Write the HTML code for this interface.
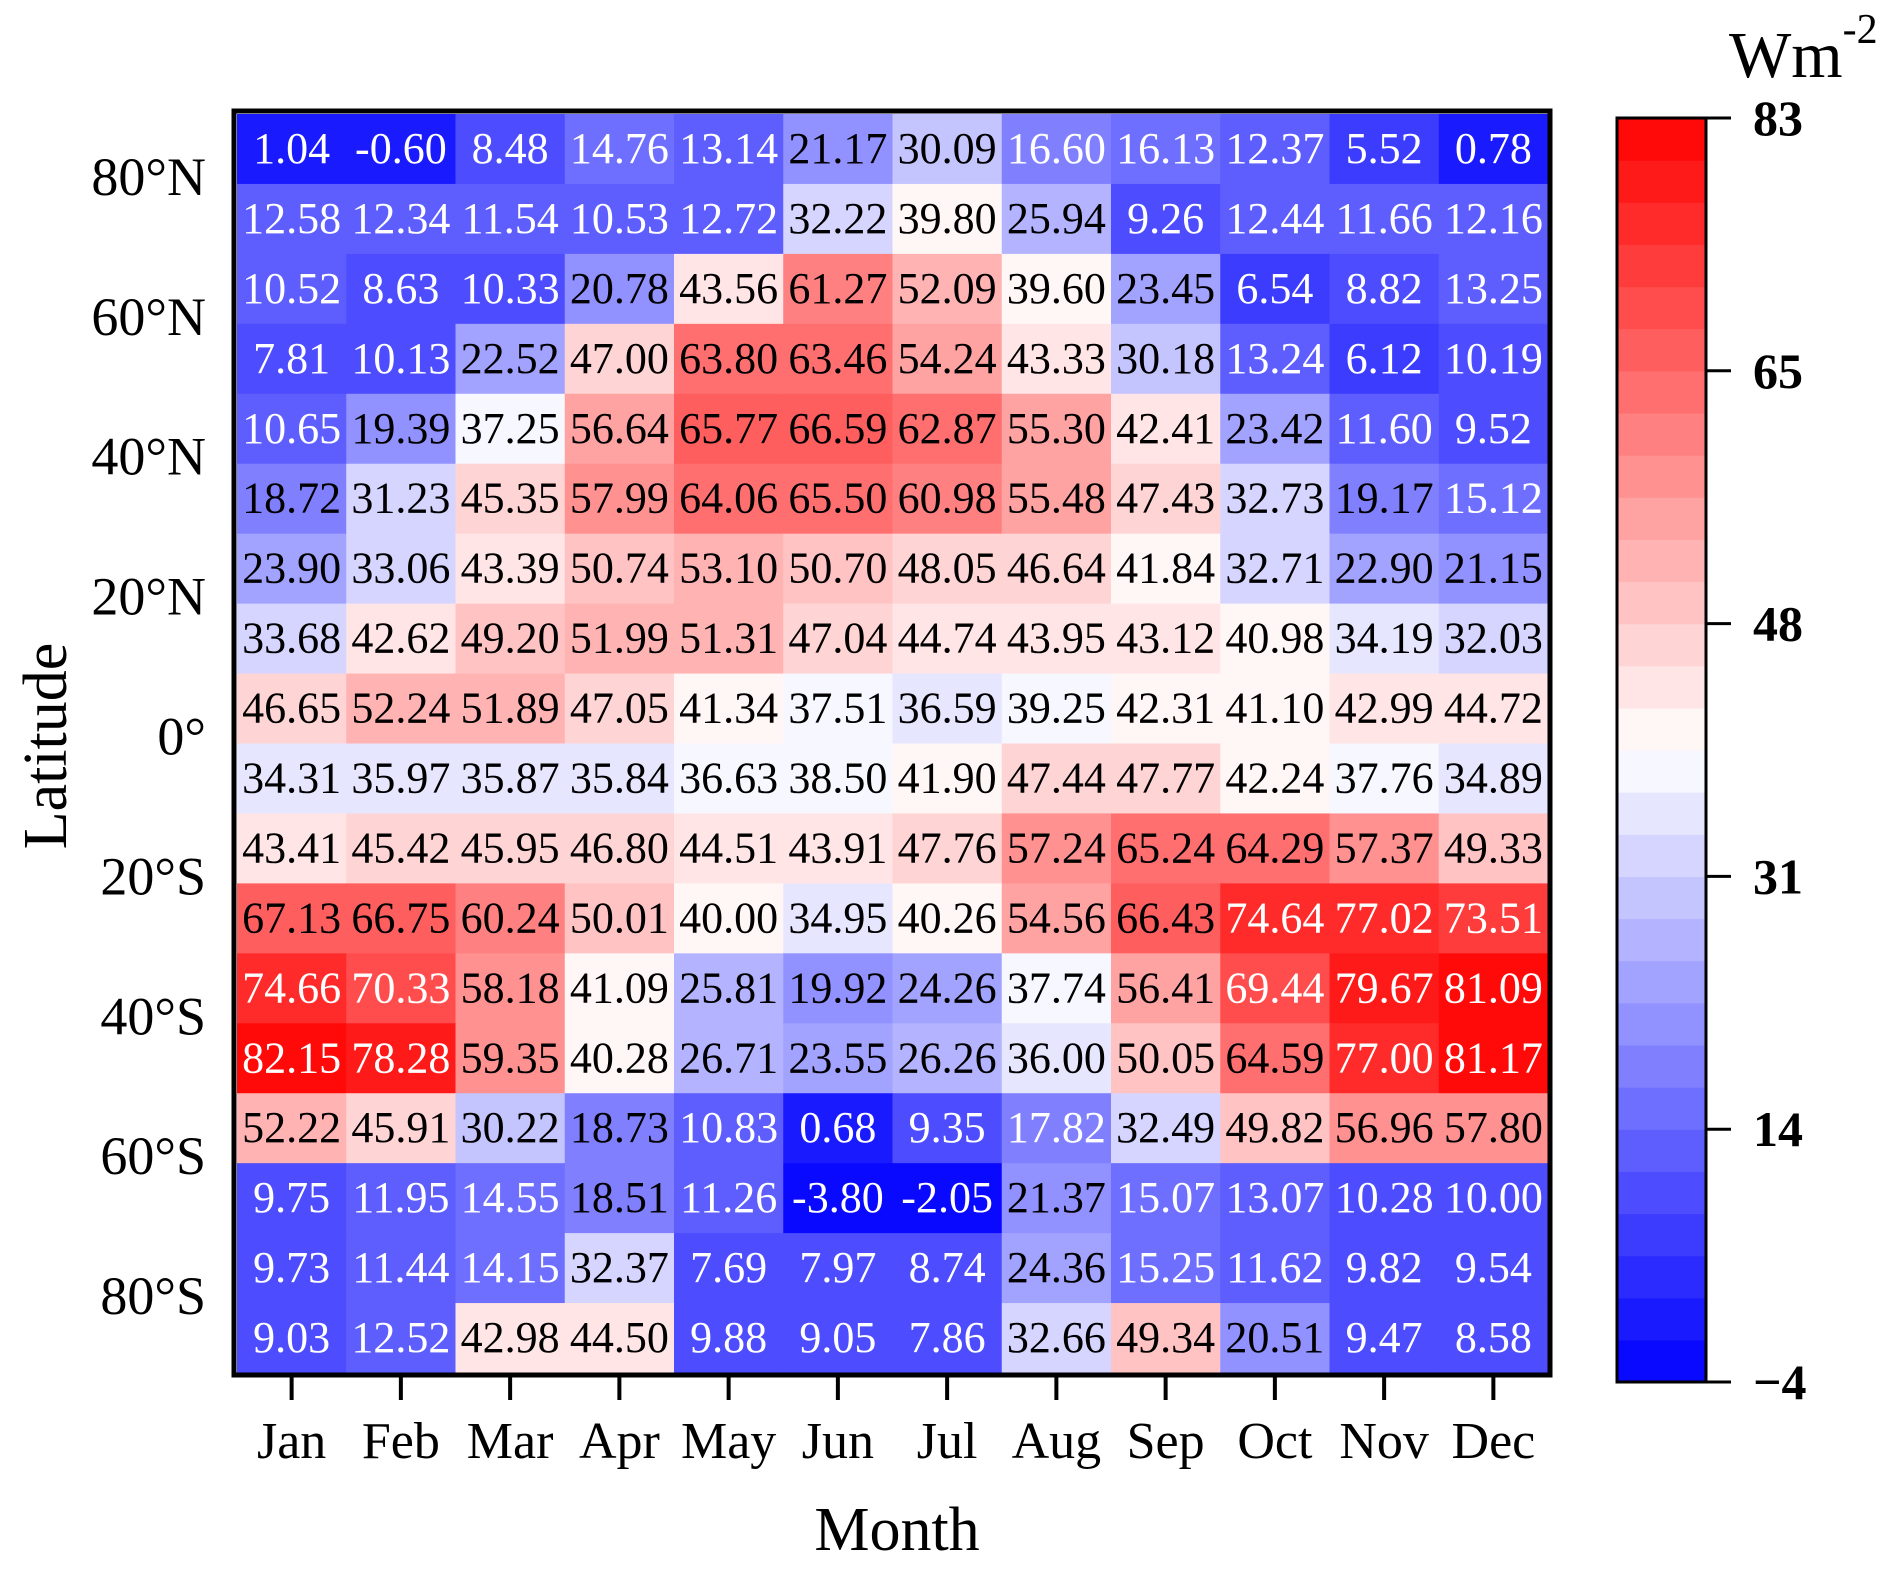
<!DOCTYPE html>
<html><head><meta charset="utf-8"><style>
html,body{margin:0;padding:0;background:#fff;}
svg{display:block;font-family:"Liberation Serif",serif;}
</style></head><body>
<svg id="chart" width="1892" height="1582" viewBox="0 0 1892 1582" xmlns="http://www.w3.org/2000/svg">
<g id="cells"></g>
<g id="labels"></g>
<rect x="234" y="111" width="1316" height="1264" fill="none" stroke="#000" stroke-width="5"/>
<g id="xaxis"></g>
<g id="yaxis"></g>
<text x="897" y="1550" font-size="62" text-anchor="middle">Month</text>
<text transform="translate(66,746) rotate(-90)" font-size="62" text-anchor="middle">Latitude</text>
<g id="cbar"></g>
<text x="1729" y="77" font-size="66">Wm<tspan font-size="42" dy="-34">-2</tspan></text>
</svg>
<script>
const months=["Jan","Feb","Mar","Apr","May","Jun","Jul","Aug","Sep","Oct","Nov","Dec"];
const latLabels=["80°N","60°N","40°N","20°N","0°","20°S","40°S","60°S","80°S"];
const cbarTicks=[83,65,48,31,14,-4];
const values=[
[1.04,-0.60,8.48,14.76,13.14,21.17,30.09,16.60,16.13,12.37,5.52,0.78],
[12.58,12.34,11.54,10.53,12.72,32.22,39.80,25.94,9.26,12.44,11.66,12.16],
[10.52,8.63,10.33,20.78,43.56,61.27,52.09,39.60,23.45,6.54,8.82,13.25],
[7.81,10.13,22.52,47.00,63.80,63.46,54.24,43.33,30.18,13.24,6.12,10.19],
[10.65,19.39,37.25,56.64,65.77,66.59,62.87,55.30,42.41,23.42,11.60,9.52],
[18.72,31.23,45.35,57.99,64.06,65.50,60.98,55.48,47.43,32.73,19.17,15.12],
[23.90,33.06,43.39,50.74,53.10,50.70,48.05,46.64,41.84,32.71,22.90,21.15],
[33.68,42.62,49.20,51.99,51.31,47.04,44.74,43.95,43.12,40.98,34.19,32.03],
[46.65,52.24,51.89,47.05,41.34,37.51,36.59,39.25,42.31,41.10,42.99,44.72],
[34.31,35.97,35.87,35.84,36.63,38.50,41.90,47.44,47.77,42.24,37.76,34.89],
[43.41,45.42,45.95,46.80,44.51,43.91,47.76,57.24,65.24,64.29,57.37,49.33],
[67.13,66.75,60.24,50.01,40.00,34.95,40.26,54.56,66.43,74.64,77.02,73.51],
[74.66,70.33,58.18,41.09,25.81,19.92,24.26,37.74,56.41,69.44,79.67,81.09],
[82.15,78.28,59.35,40.28,26.71,23.55,26.26,36.00,50.05,64.59,77.00,81.17],
[52.22,45.91,30.22,18.73,10.83,0.68,9.35,17.82,32.49,49.82,56.96,57.80],
[9.75,11.95,14.55,18.51,11.26,-3.80,-2.05,21.37,15.07,13.07,10.28,10.00],
[9.73,11.44,14.15,32.37,7.69,7.97,8.74,24.36,15.25,11.62,9.82,9.54],
[9.03,12.52,42.98,44.50,9.88,9.05,7.86,32.66,49.34,20.51,9.47,8.58]
];
const vmin=-4,vmax=83,nLev=30;
const X0=237,X1=1548,Y0=114,Y1=1373;
const cw=(X1-X0)/12,rh=(Y1-Y0)/18;
const NS="http://www.w3.org/2000/svg";
function mk(t,a){const e=document.createElementNS(NS,t);for(const k in a)e.setAttribute(k,a[k]);return e;}
function xCol(i){return X0+i*cw;}
function yRow(j){return Y0+j*rh;}
function color(v){
 let k=Math.floor((v-vmin)/(vmax-vmin)*nLev);k=Math.max(0,Math.min(nLev-1,k));
 const t=(k+0.5)/nLev;let r,g,b;
 if(t<0.5){const s=t/0.5;r=g=Math.round(255*s);b=255;}else{const s=(1-t)/0.5;r=255;g=b=Math.round(255*s);}
 return `rgb(${r},${g},${b})`;
}
const cells=document.getElementById('cells'),labels=document.getElementById('labels');
values.forEach((row,j)=>row.forEach((v,i)=>{
 const r=mk('rect',{x:xCol(i),y:yRow(j),width:cw+0.6,height:rh+0.6,fill:color(v)});
 
 
 cells.appendChild(r);
 const t=mk('text',{x:xCol(i)+cw/2,y:yRow(j)+rh/2+14,'font-size':44,'text-anchor':'middle',fill:(v<18||v>68)?'#fff':'#000'});
 
 
 t.textContent=v.toFixed(2);labels.appendChild(t);
}));
const xa=document.getElementById('xaxis');
months.forEach((m,i)=>{
 const cx=xCol(i)+cw/2;
 const tk=mk('line',{x1:cx,y1:1377,x2:cx,y2:1400,stroke:'#000','stroke-width':4});
 
 
 xa.appendChild(tk);
 const t=mk('text',{x:cx,y:1458,'font-size':52,'text-anchor':'middle'});
 
 
 t.textContent=m;xa.appendChild(t);
});
const ya=document.getElementById('yaxis');
latLabels.forEach((l,k)=>{
 const y=yRow(1+2*k);
 const t=mk('text',{x:206,y:y+11,'font-size':54,'text-anchor':'end'});
 
 
 t.textContent=l;ya.appendChild(t);
});
const cb=document.getElementById('cbar');
const CX0=1617,CX1=1706,CY0=118,CY1=1382;
for(let k=0;k<nLev;k++){
 const h=(CY1-CY0)/nLev;const v=vmin+(k+0.5)*(vmax-vmin)/nLev;
 const r=mk('rect',{x:CX0,y:CY1-(k+1)*h,width:CX1-CX0,height:h+0.6,fill:color(v)});
 
 
 cb.appendChild(r);
}
const fr=mk('rect',{x:CX0,y:CY0,width:CX1-CX0,height:CY1-CY0,fill:'none',stroke:'#000','stroke-width':3});


cb.appendChild(fr);
cbarTicks.forEach((v,k)=>{
 const y=CY0+k*(CY1-CY0)/(cbarTicks.length-1);
 const tk=mk('line',{x1:CX1,y1:y,x2:1731,y2:y,stroke:'#000','stroke-width':3});
 
 
 cb.appendChild(tk);
 const t=mk('text',{x:1753,y:y+17,'font-size':50,'font-weight':'bold'});
 
 
 t.textContent=v<0?'\u2212'+Math.abs(v):String(v);cb.appendChild(t);
});
</script>
</body></html>
